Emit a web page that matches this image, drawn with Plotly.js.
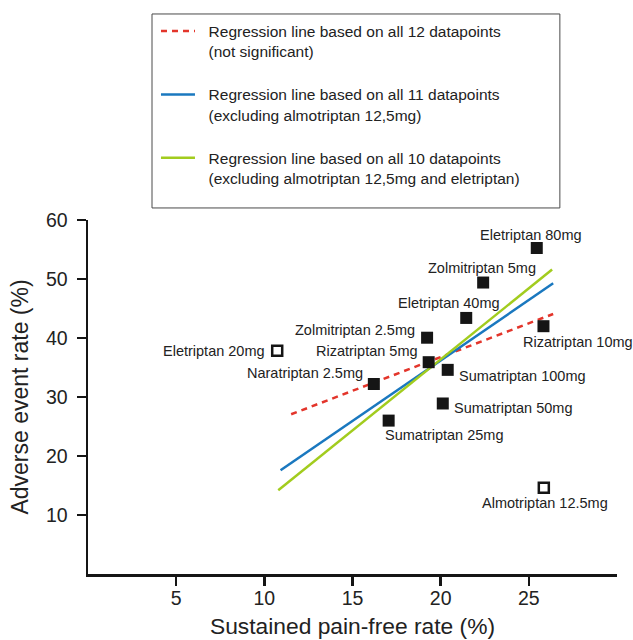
<!DOCTYPE html>
<html>
<head>
<meta charset="utf-8">
<script src="https://cdn.plot.ly/plotly-3.0.1.min.js"></script>
<style>html,body{margin:0;padding:0;background:#fff;}#chart{width:633px;height:640px;}</style>
</head>
<body>
<div id="chart"></div>
<script>
// ---- data ----
var drugNames = ["Eletriptan 80mg", "Zolmitriptan 5mg", "Eletriptan 40mg", "Rizatriptan 10mg",
  "Zolmitriptan 2.5mg", "Rizatriptan 5mg", "Sumatriptan 100mg", "Naratriptan 2.5mg",
  "Sumatriptan 50mg", "Sumatriptan 25mg"];
var painFree = [25.45, 22.41, 21.45, 25.83, 19.23, 19.32, 20.40, 16.21, 20.12, 17.05];
var adverse  = [55.25, 49.4, 43.4, 42.0, 40.05, 35.9, 34.6, 32.2, 28.9, 26.0];

var outlierNames = ["Eletriptan 20mg", "Almotriptan 12.5mg"];
var outlierPainFree = [10.73, 25.85];
var outlierAdverse = [37.85, 14.6];

var reg12X = [11.52, 26.38], reg12Y = [27.07, 44.07];
var reg11X = [10.92, 26.38], reg11Y = [17.6, 49.27];
var reg10X = [10.79, 26.32], reg10Y = [14.2, 51.6];

var xTicks = [5, 10, 15, 20, 25];
var yTicks = [10, 20, 30, 40, 50, 60];

var legendLines = [
  ["Regression line based on all 12 datapoints", "(not significant)"],
  ["Regression line based on all 11 datapoints", "(excluding almotriptan 12,5mg)"],
  ["Regression line based on all 10 datapoints", "(excluding almotriptan 12,5mg and eletriptan)"]
];

// ---- label placement (styling, px offsets from each marker) ----
var place = {
  "Eletriptan 80mg":    {a: "center", dx: -6,  dy: 13},
  "Zolmitriptan 5mg":   {a: "center", dx: -1,  dy: 15},
  "Eletriptan 40mg":    {a: "center", dx: -17, dy: 15},
  "Rizatriptan 10mg":   {a: "center", dx: 35,  dy: -16},
  "Zolmitriptan 2.5mg": {a: "right",  dx: -10, dy: 8},
  "Rizatriptan 5mg":    {a: "right",  dx: -9,  dy: 11},
  "Sumatriptan 100mg":  {a: "left",   dx: 9,   dy: -6},
  "Naratriptan 2.5mg":  {a: "right",  dx: -9,  dy: 11},
  "Sumatriptan 50mg":   {a: "left",   dx: 9,   dy: -5},
  "Sumatriptan 25mg":   {a: "left",   dx: -6,  dy: -14},
  "Eletriptan 20mg":    {a: "right",  dx: -10, dy: 0},
  "Almotriptan 12.5mg": {a: "center", dx: 1,   dy: -15}
};

var FONT = "Arial, 'Liberation Sans', Helvetica, sans-serif";
var TXT = "#222222";
var IND = "\u00a0\u00a0";

function legName(lines) { return lines.map(function (s) { return IND + s; }).join("<br>"); }

var traces = [
  {x: reg12X, y: reg12Y, mode: "lines", name: legName(legendLines[0]), legendgroup: "a",
   line: {color: "#e3352b", width: 2.5, dash: "6px,5px"}},
  {x: reg11X, y: reg11Y, mode: "lines", name: legName(legendLines[1]), legendgroup: "b",
   line: {color: "#1a78bf", width: 2.5}},
  {x: reg10X, y: reg10Y, mode: "lines", name: legName(legendLines[2]), legendgroup: "c",
   line: {color: "#a2cc1e", width: 2.5}},
  {x: painFree, y: adverse, text: drugNames, mode: "markers", showlegend: false,
   marker: {symbol: "square", size: 12, color: "#151515", line: {width: 0}}},
  {x: outlierPainFree, y: outlierAdverse, text: outlierNames, mode: "markers", showlegend: false,
   marker: {symbol: "square-open", size: 10, color: "#151515", line: {width: 2.5, color: "#151515"}}}
];

var annotations = [];
function addLabels(names, xs, ys) {
  for (var i = 0; i < names.length; i++) {
    var p = place[names[i]];
    annotations.push({x: xs[i], y: ys[i], xref: "x", yref: "y", text: names[i], showarrow: false,
      xanchor: p.a, yanchor: "middle", xshift: p.dx, yshift: p.dy,
      font: {family: FONT, size: 14.5, color: TXT}});
  }
}
addLabels(drugNames, painFree, adverse);
addLabels(outlierNames, outlierPainFree, outlierAdverse);

var axisCommon = {
  showgrid: false, zeroline: false, showline: true, linecolor: "#151515", linewidth: 2.5,
  ticks: "outside", ticklen: 9, tickwidth: 2.5, tickcolor: "#151515",
  tickfont: {family: FONT, size: 19.5, color: TXT}, tickmode: "array"
};

var layout = {
  width: 633, height: 640,
  margin: {l: 88, r: 16, t: 220, b: 66},
  paper_bgcolor: "#ffffff", plot_bgcolor: "#ffffff",
  font: {family: FONT, color: TXT},
  showlegend: true,
  legend: {x: 0.1285, y: 1.5805, xanchor: "left", yanchor: "top",
    borderwidth: 0, bgcolor: "rgba(0,0,0,0)", valign: "top",
    font: {family: FONT, size: 15.5, color: TXT},
    tracegroupgap: 20, itemwidth: 34, traceorder: "grouped"},
  shapes: [
    {type: "rect", xref: "paper", yref: "paper", x0: 0.121, x1: 0.892, y0: 1.034, y1: 1.582,
     line: {color: "#4a4a4a", width: 1}, fillcolor: "rgba(0,0,0,0)"}
  ],
  xaxis: Object.assign({}, axisCommon, {range: [0, 30], tickvals: xTicks, ticklabelstandoff: -4,
    title: {text: "Sustained pain-free rate (%)", font: {family: FONT, size: 22.8, color: TXT}, standoff: 10}}),
  yaxis: Object.assign({}, axisCommon, {range: [0, 60], tickvals: yTicks, ticklabelstandoff: 5,
    title: {text: "Adverse event rate (%)", font: {family: FONT, size: 23, color: TXT}, standoff: 11}}),
  annotations: annotations
};

Plotly.newPlot("chart", traces, layout, {displayModeBar: false, staticPlot: true});
</script>
</body>
</html>
